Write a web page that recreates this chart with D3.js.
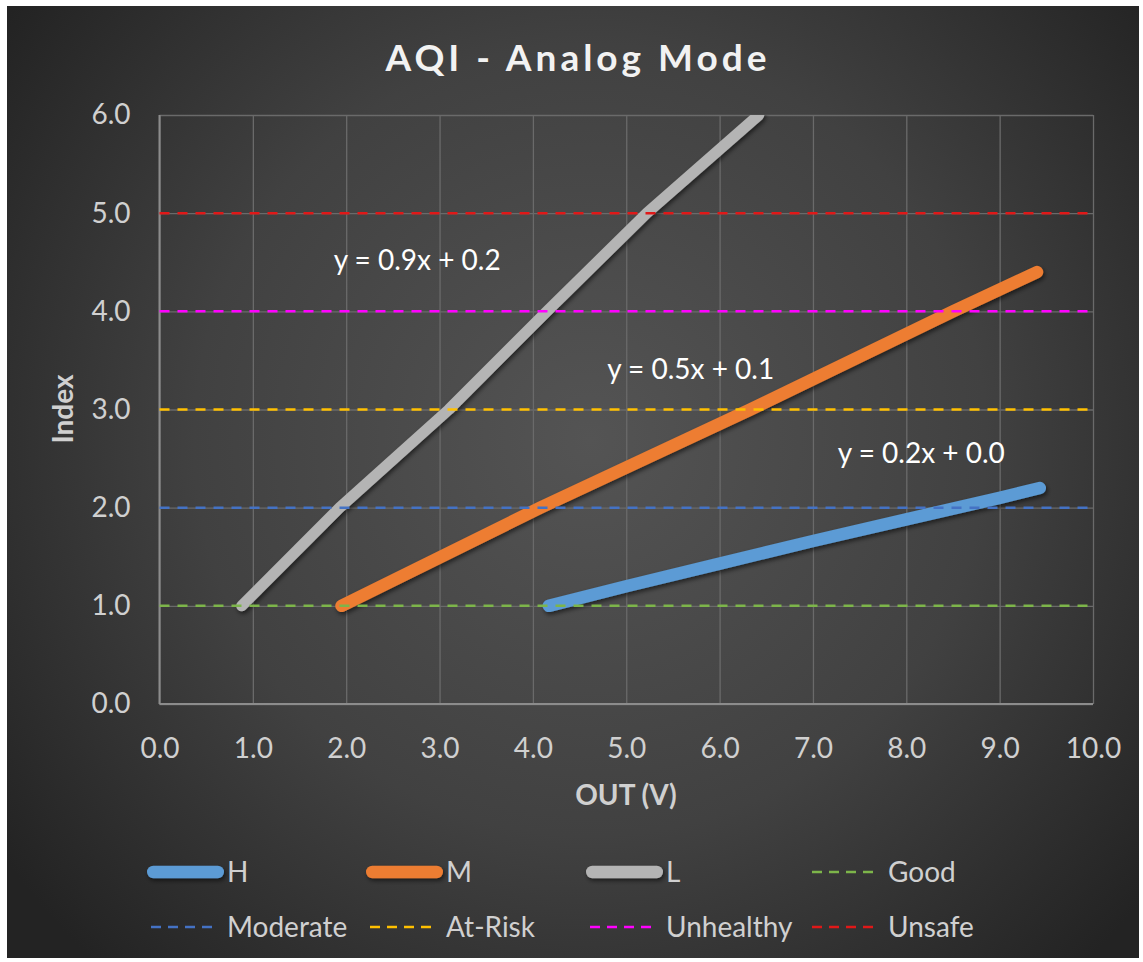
<!DOCTYPE html>
<html>
<head>
<meta charset="utf-8">
<script src="https://cdn.jsdelivr.net/npm/d3@7"></script>
<style>
  html, body { margin: 0; padding: 0; background: #ffffff; }
  svg { display: block; }
</style>
</head>
<body>
<svg id="chart" width="1143" height="962"></svg>
<script>
// Sensor output (V) against AQI index for the three sensitivity ranges
const seriesNames = ["H", "M", "L"];
const outH = [4.17, 5.0, 6.0, 7.0, 8.0, 9.0, 9.43];
const idxH = [1.0, 1.20, 1.43, 1.66, 1.88, 2.10, 2.20];
const outM = [1.95, 4.08, 6.33, 8.50, 9.40];
const idxM = [1.0, 2.0, 3.0, 4.0, 4.40];
const outL = [0.88, 1.93, 3.10, 4.15, 5.22, 6.42];
const idxL = [1.0, 2.0, 3.0, 4.0, 5.0, 6.0];

// Linear trendline equations shown for each range
const trendEquations = ["y = 0.2x + 0.0", "y = 0.5x + 0.1", "y = 0.9x + 0.2"];

// AQI band thresholds, drawn across the full output range
const bandNames = ["Good", "Moderate", "At-Risk", "Unhealthy", "Unsafe"];
const bandLevels = [1, 2, 3, 4, 5];
const bandSpan = [0, 10];

// Axis ticks
const xTicks = [0, 1, 2, 3, 4, 5, 6, 7, 8, 9, 10];
const yTicks = [0, 1, 2, 3, 4, 5, 6];

// ---- styling ----
const seriesColors = { H: "#5B9BD5", M: "#ED7D31", L: "#B4B4B4" };
const seriesWidths = { H: 12.5, M: 12.5, L: 11 };
const legendLineWidth = 12.5;
const bandColors = {
  "Good": "#7DB54A", "Moderate": "#4472C4", "At-Risk": "#FFC000",
  "Unhealthy": "#FF00FF", "Unsafe": "#E01818"
};
// where each equation label sits, in data units (centre x, baseline y)
const labelAnchor = { H: [8.16, 2.46], M: [5.69, 3.31], L: [2.76, 4.42] };

const FONT = "Lato, 'Open Sans', sans-serif";
const TXT = "#D0D0D0";

const svg = d3.select("#chart");
const W = 1143, Hh = 962;
const plot = { left: 159.5, right: 1093, top: 115, bottom: 704 };

const defs = svg.append("defs");
const grad = defs.append("radialGradient")
  .attr("id", "bg").attr("gradientUnits", "userSpaceOnUse")
  .attr("cx", 590).attr("cy", 440).attr("r", 720);
grad.append("stop").attr("offset", "0%").attr("stop-color", "#545454");
grad.append("stop").attr("offset", "55%").attr("stop-color", "#414141");
grad.append("stop").attr("offset", "100%").attr("stop-color", "#232323");

// soft drop shadow under the thick series strokes
const shadow = defs.append("filter").attr("id", "shadow")
  .attr("filterUnits", "userSpaceOnUse")
  .attr("x", 0).attr("y", 0).attr("width", W).attr("height", Hh);
shadow.append("feDropShadow").attr("dx", 1.5).attr("dy", 2.5)
  .attr("stdDeviation", 2).attr("flood-color", "#000").attr("flood-opacity", 0.55);

defs.append("clipPath").attr("id", "plotClip").append("rect")
  .attr("x", plot.left).attr("y", plot.top)
  .attr("width", plot.right - plot.left).attr("height", plot.bottom - plot.top);

// chart area
svg.append("rect").attr("x", 7).attr("y", 6).attr("width", W - 11).attr("height", Hh - 10)
  .attr("fill", "url(#bg)");

const x = d3.scaleLinear().domain([0, 10]).range([plot.left, plot.right]);
const y = d3.scaleLinear().domain([0, 6]).range([plot.bottom, plot.top]);

// gridlines
const gridX = svg.append("g").attr("transform", `translate(0,${plot.bottom})`)
  .call(d3.axisBottom(x).tickValues(xTicks).tickSize(-(plot.bottom - plot.top)).tickFormat(""));
gridX.select(".domain").remove();
gridX.selectAll("line").attr("stroke", "#6A6A6A").attr("stroke-width", 1.3);

const gridY = svg.append("g").attr("transform", `translate(${plot.left},0)`)
  .call(d3.axisLeft(y).tickValues(yTicks).tickSize(-(plot.right - plot.left)).tickFormat(""));
gridY.select(".domain").remove();
gridY.selectAll("line").attr("stroke", "#6A6A6A").attr("stroke-width", 1.3);

// axis lines
svg.append("line").attr("x1", plot.left).attr("x2", plot.right)
  .attr("y1", y(0)).attr("y2", y(0)).attr("stroke", "#8C8C8C").attr("stroke-width", 2);
svg.append("line").attr("x1", x(0)).attr("x2", x(0))
  .attr("y1", plot.top).attr("y2", plot.bottom).attr("stroke", "#8C8C8C").attr("stroke-width", 2);

// tick labels
const xAxis = svg.append("g").attr("transform", `translate(0,${plot.bottom})`)
  .call(d3.axisBottom(x).tickValues(xTicks).tickSize(0).tickPadding(34).tickFormat(d3.format(".1f")));
xAxis.select(".domain").remove();
xAxis.selectAll("text").attr("fill", TXT).style("font-family", FONT).style("font-size", "28px");

const yAxis = svg.append("g").attr("transform", `translate(${plot.left},0)`)
  .call(d3.axisLeft(y).tickValues(yTicks).tickSize(0).tickPadding(29).tickFormat(d3.format(".1f")));
yAxis.select(".domain").remove();
yAxis.selectAll("text").attr("fill", TXT).style("font-family", FONT).style("font-size", "28px");

// series lines
const seriesData = {
  H: outH.map((v, i) => [v, idxH[i]]),
  M: outM.map((v, i) => [v, idxM[i]]),
  L: outL.map((v, i) => [v, idxL[i]])
};
const line = d3.line().x(d => x(d[0])).y(d => y(d[1]));
const seriesG = svg.append("g").attr("clip-path", "url(#plotClip)");
seriesNames.forEach(name => {
  seriesG.append("path").datum(seriesData[name])
    .attr("d", line).attr("fill", "none")
    .attr("stroke", seriesColors[name]).attr("stroke-width", seriesWidths[name])
    .attr("stroke-linecap", "round").attr("stroke-linejoin", "round")
    .attr("filter", "url(#shadow)");
});

// band threshold lines
const bandG = svg.append("g");
bandNames.forEach((name, i) => {
  bandG.append("path").datum(bandSpan.map(v => [v, bandLevels[i]]))
    .attr("d", line).attr("fill", "none")
    .attr("stroke", bandColors[name]).attr("stroke-width", 2.5)
    .attr("stroke-dasharray", "10,8");
});

// trendline equations
seriesNames.forEach((name, i) => {
  const a = labelAnchor[name];
  svg.append("text").attr("x", x(a[0])).attr("y", y(a[1]))
    .attr("text-anchor", "middle").attr("fill", "#FFFFFF")
    .style("font-family", FONT).style("font-size", "28px").text(trendEquations[i]);
});

// title and axis titles
svg.append("text").attr("x", 578).attr("y", 71).attr("text-anchor", "middle")
  .attr("fill", "#F2F2F2").style("font-family", FONT).style("font-weight", "bold")
  .style("font-size", "37px").style("letter-spacing", "4px").text("AQI - Analog Mode");

svg.append("text").attr("x", 626).attr("y", 805).attr("text-anchor", "middle")
  .attr("fill", TXT).style("font-family", FONT).style("font-weight", "bold")
  .style("font-size", "28px").text("OUT (V)");

svg.append("text").attr("transform", "translate(73,409) rotate(-90)").attr("text-anchor", "middle")
  .attr("fill", TXT).style("font-family", FONT).style("font-weight", "bold")
  .style("font-size", "28px").text("Index");

// legend
const legendItems = seriesNames.map(n => ({ name: n, kind: "series" }))
  .concat(bandNames.map(n => ({ name: n, kind: "band" })));
const legCols = [147, 366, 586, 808];
const legRows = [872, 927];
const legend = svg.append("g");
legendItems.forEach((item, i) => {
  const cx = legCols[i % 4], cy = legRows[Math.floor(i / 4)];
  const g = legend.append("g");
  if (item.kind === "series") {
    const w = legendLineWidth;
    g.append("line").attr("x1", cx + w / 2).attr("x2", cx + 77 - w / 2)
      .attr("y1", cy).attr("y2", cy)
      .attr("stroke", seriesColors[item.name]).attr("stroke-width", w)
      .attr("stroke-linecap", "round").attr("filter", "url(#shadow)");
  } else {
    g.append("line").attr("x1", cx + 4).attr("x2", cx + 68)
      .attr("y1", cy).attr("y2", cy)
      .attr("stroke", bandColors[item.name]).attr("stroke-width", 2.5)
      .attr("stroke-dasharray", "10,7");
  }
  g.append("text").attr("x", cx + 80).attr("y", cy + 10)
    .attr("fill", TXT).style("font-family", FONT).style("font-size", "28px").text(item.name);
});
</script>
</body>
</html>
